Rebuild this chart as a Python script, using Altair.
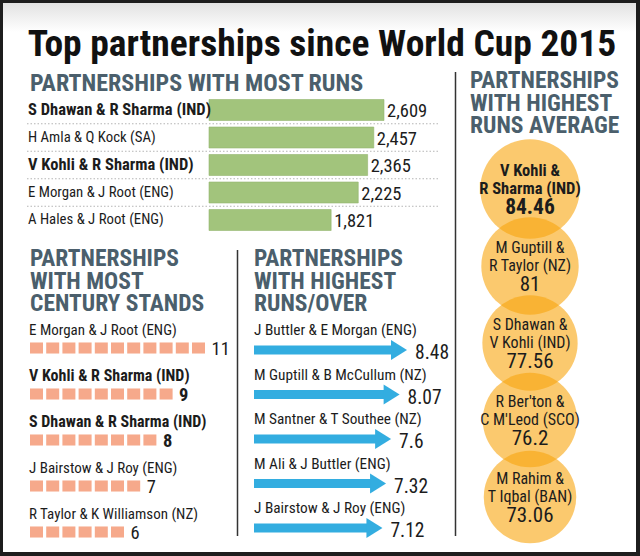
import altair as alt
import pandas as pd

# ---------------- data ----------------
runs_names = ["S Dhawan & R Sharma (IND)", "H Amla & Q Kock (SA)", "V Kohli & R Sharma (IND)",
              "E Morgan & J Root (ENG)", "A Hales & J Root (ENG)"]
runs_values = [2609, 2457, 2365, 2225, 1821]
runs_bold = [True, False, True, False, False]

cent_names = ["E Morgan & J Root (ENG)", "V Kohli & R Sharma (IND)", "S Dhawan & R Sharma (IND)",
              "J Bairstow & J Roy (ENG)", "R Taylor & K Williamson (NZ)"]
cent_values = [11, 9, 8, 7, 6]
cent_bold = [False, True, True, False, False]

rpo_names = ["J Buttler & E Morgan (ENG)", "M Guptill & B McCullum (NZ)", "M Santner & T Southee (NZ)",
             "M Ali & J Buttler (ENG)", "J Bairstow & J Roy (ENG)"]
rpo_values = [8.48, 8.07, 7.6, 7.32, 7.12]

avg_line1 = ["V Kohli &", "M Guptill &", "S Dhawan &", "R Ber'ton &", "M Rahim &"]
avg_line2 = ["R Sharma (IND)", "R Taylor (NZ)", "V Kohli (IND)", "C M'Leod (SCO)", "T Iqbal (BAN)"]
avg_values = [84.46, 81, 77.56, 76.2, 73.06]
avg_bold = [True, False, False, False, False]

TITLE = "Top partnerships since World Cup 2015"
H_RUNS = "PARTNERSHIPS WITH MOST RUNS"
H_CENT = "PARTNERSHIPS\nWITH MOST\nCENTURY STANDS"
H_RPO = "PARTNERSHIPS\nWITH HIGHEST\nRUNS/OVER"
H_AVG = "PARTNERSHIPS\nWITH HIGHEST\nRUNS AVERAGE"

# ---------------- style ----------------
FONT = "Liberation Sans Narrow, Roboto Condensed, DejaVu Sans Condensed, Arial Narrow, sans-serif"
HEAD = "#4b5f6c"
TXT = "#1c1c1c"
GREEN = "#a2c47c"
SALMON = "#f6a98b"
BLUE = "#33ade0"
ORANGE = "#f8a50e"

one = pd.DataFrame({"k": [0]})

# ---------------- tables ----------------
runs_df = pd.DataFrame({"name": runs_names, "v": runs_values, "bold": runs_bold,
                        "lab": [f"{v:,}" for v in runs_values]})
cent_df = pd.DataFrame({"name": cent_names, "v": cent_values, "bold": cent_bold,
                        "lab": [str(v) for v in cent_values]})
sq_rows = []
for n, v in zip(cent_names, cent_values):
    for i in range(1, v + 1):
        sq_rows.append({"name": n, "i": i})
sq_df = pd.DataFrame(sq_rows)
rpo_df = pd.DataFrame({"name": rpo_names, "v": rpo_values, "lab": [str(v) for v in rpo_values]})
avg_df = pd.DataFrame({"key": [a + " " + b for a, b in zip(avg_line1, avg_line2)],
                       "l1": avg_line1, "l2": avg_line2, "v": avg_values,
                       "bold": avg_bold, "lab": [str(v) for v in avg_values]})

# ---------------- background & texts ----------------
panel = alt.Chart(one).mark_rect(color="white").encode(
    x=alt.value(3), x2=alt.value(636), y=alt.value(3), y2=alt.value(552))
grad = alt.Chart(one).mark_rect(
    color=alt.Gradient(gradient="linear", x1=0, x2=0, y1=0, y2=1,
                       stops=[alt.GradientStop(color="#e2e2e2", offset=0),
                              alt.GradientStop(color="#ffffff", offset=1)])
).encode(x=alt.value(3), x2=alt.value(636), y=alt.value(3), y2=alt.value(32))

title = alt.Chart(one).mark_text(text=TITLE, font=FONT, fontSize=37.5, fontWeight="bold",
                                 color="#111", align="center", baseline="alphabetic").encode(
    x=alt.value(322), y=alt.value(56))


def heading(txt, x, y, size=23.5):
    return alt.Chart(one).mark_text(text=txt, font=FONT, fontSize=size, fontWeight="bold", color=HEAD,
                                    align="left", baseline="alphabetic", lineBreak="\n",
                                    lineHeight=22.5).encode(x=alt.value(x), y=alt.value(y))


h1 = heading(H_RUNS, 30, 91, 24)
h2 = heading(H_CENT, 30, 266)
h3 = heading(H_RPO, 254, 266)
h4 = heading(H_AVG, 470, 88)

vline1 = alt.Chart(one).mark_rule(color="#333", strokeWidth=1.5).encode(
    x=alt.value(455.5), y=alt.value(72), y2=alt.value(536))
vline2 = alt.Chart(one).mark_rule(color="#333", strokeWidth=1.5).encode(
    x=alt.value(237.5), y=alt.value(250), y2=alt.value(536))

# ---------------- most runs ----------------
ry = alt.Y("name:N", scale=alt.Scale(domain=runs_names, range=[96.25, 233.75], paddingInner=0,
                                     paddingOuter=0), axis=None)
rx = alt.X("v:Q", scale=alt.Scale(domain=[0, 2609], range=[209, 384]), axis=None)
rb = alt.Chart(runs_df)
runs_layer = alt.layer(
    rb.transform_filter(alt.datum.name != runs_names[-1]).mark_rule(
        color="#b5b5b5", strokeDash=[1.5, 2], yOffset=13.75).encode(
        y=ry, x=alt.value(27), x2=alt.value(440)),
    rb.mark_bar(color=GREEN, height=21, stroke="#93b66e", strokeWidth=0.6).encode(
        y=ry, x=rx, x2=alt.datum(0)),
    rb.mark_text(font=FONT, fontSize=18.5, color=TXT, align="left", dx=3, baseline="middle",
                 dy=1).encode(y=ry, x=rx, text="lab:N"),
    rb.transform_filter("datum.bold").mark_text(font=FONT, fontSize=16.5, fontWeight="bold",
                                                color=TXT, align="left", baseline="middle").encode(
        y=ry, x=alt.value(28), text="name:N"),
    rb.transform_filter("!datum.bold").mark_text(font=FONT, fontSize=14.8, color=TXT,
                                                 align="left", baseline="middle").encode(
        y=ry, x=alt.value(28), text="name:N"),
)

# ---------------- century stands ----------------
cy = alt.Y("name:N", scale=alt.Scale(type="point", domain=cent_names, range=[348, 532], padding=0),
           axis=None)
cx_sq = alt.X("i:Q", scale=alt.Scale(domain=[1, 11], range=[36.5, 198.5]), axis=None)
cx_v = alt.X("v:Q", scale=alt.Scale(domain=[1, 11], range=[36.5, 198.5]), axis=None)
cb = alt.Chart(cent_df)
cent_layer = alt.layer(
    alt.Chart(sq_df).mark_point(shape="M-1,-0.85L1,-0.85L1,0.85L-1,0.85Z", size=169, filled=True,
                                opacity=1, color=SALMON, strokeWidth=0).encode(y=cy, x=cx_sq),
    cb.transform_filter("datum.bold").mark_text(font=FONT, fontSize=18.5, fontWeight="bold",
                                                color=TXT, align="left", baseline="middle", dx=13,
                                                dy=1).encode(y=cy, x=cx_v, text="lab:N"),
    cb.transform_filter("!datum.bold").mark_text(font=FONT, fontSize=18.5, color=TXT,
                                                 align="left", baseline="middle", dx=13,
                                                 dy=1).encode(y=cy, x=cx_v, text="lab:N"),
    cb.transform_filter("datum.bold").mark_text(font=FONT, fontSize=16, fontWeight="bold",
                                                color=TXT, align="left", baseline="middle",
                                                dy=-18).encode(y=cy, x=alt.value(29), text="name:N"),
    cb.transform_filter("!datum.bold").mark_text(font=FONT, fontSize=15, color=TXT,
                                                 align="left", baseline="middle",
                                                 dy=-18).encode(y=cy, x=alt.value(29), text="name:N"),
)

# ---------------- runs / over ----------------
py = alt.Y("name:N", scale=alt.Scale(type="point", domain=rpo_names, range=[350, 528], padding=0),
           axis=None)
px = alt.X("v:Q", scale=alt.Scale(domain=[0, 8.48], range=[254, 407]), axis=None)
pb = alt.Chart(rpo_df)
rpo_layer = alt.layer(
    pb.mark_rule(color=BLUE, strokeWidth=9, strokeCap="butt", xOffset=-13).encode(
        y=py, x=px, x2=alt.datum(0)),
    pb.mark_point(shape="M-0.8,-1L0.8,0L-0.8,1Z", size=400, filled=True, opacity=1, color=BLUE,
                  strokeWidth=0, xOffset=-8).encode(y=py, x=px),
    pb.mark_text(font=FONT, fontSize=19.5, color=TXT, align="left", baseline="middle", dx=8,
                 dy=3).encode(y=py, x=px, text="lab:N"),
    pb.mark_text(font=FONT, fontSize=15.3, color=TXT, align="left", baseline="middle",
                 dy=-20).encode(y=py, x=alt.value(254), text="name:N"),
)

# ---------------- runs average ----------------
ay = alt.Y("key:N", scale=alt.Scale(type="point", domain=list(avg_df["key"]), range=[189, 497],
                                    padding=0), axis=None)
ab = alt.Chart(avg_df)
avg_layer = alt.layer(
    ab.mark_point(shape="circle", filled=True, opacity=0.6, color=ORANGE, strokeWidth=0).encode(
        y=ay, x=alt.value(530),
        size=alt.Size("v:Q", scale=alt.Scale(domain=[73.06, 84.46], range=[8550, 9900], zero=False),
                      legend=None)),
    ab.transform_filter("datum.bold").mark_text(font=FONT, fontSize=16.5, fontWeight="bold",
                                                color=TXT, align="center", baseline="middle",
                                                dy=-18).encode(y=ay, x=alt.value(530), text="l1:N"),
    ab.transform_filter("datum.bold").mark_text(font=FONT, fontSize=16.5, fontWeight="bold",
                                                color=TXT, align="center", baseline="middle",
                                                dy=0).encode(y=ay, x=alt.value(530), text="l2:N"),
    ab.transform_filter("datum.bold").mark_text(font=FONT, fontSize=21.5, fontWeight="bold",
                                                color=TXT, align="center", baseline="middle",
                                                dy=19).encode(y=ay, x=alt.value(530), text="lab:N"),
    ab.transform_filter("!datum.bold").mark_text(font=FONT, fontSize=16, color=TXT,
                                                 align="center", baseline="middle",
                                                 dy=-18).encode(y=ay, x=alt.value(530), text="l1:N"),
    ab.transform_filter("!datum.bold").mark_text(font=FONT, fontSize=16, color=TXT,
                                                 align="center", baseline="middle",
                                                 dy=0).encode(y=ay, x=alt.value(530), text="l2:N"),
    ab.transform_filter("!datum.bold").mark_text(font=FONT, fontSize=21, color=TXT,
                                                 align="center", baseline="middle",
                                                 dy=19).encode(y=ay, x=alt.value(530), text="lab:N"),
)

chart = alt.layer(
    panel, grad, title, h1, h2, h3, h4, vline1, vline2,
    runs_layer, cent_layer, rpo_layer, avg_layer
).resolve_scale(x="independent", y="independent", size="independent").properties(
    width=640, height=556, padding=0, autosize=alt.AutoSizeParams(type="none"),
    background="#1d1d1d"
).configure_view(stroke=None)

chart.save("out.html", embed_options={"renderer": "svg", "actions": False})
